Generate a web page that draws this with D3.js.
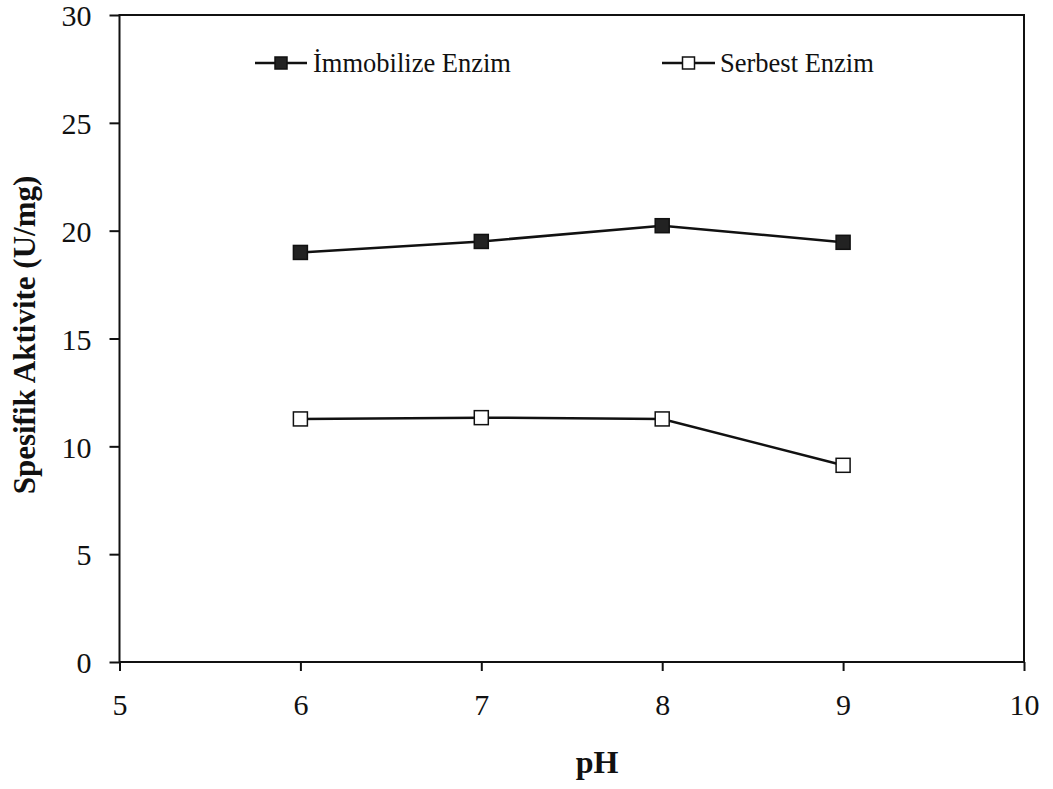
<!DOCTYPE html>
<html>
<head>
<meta charset="utf-8">
<script src="https://cdn.jsdelivr.net/npm/d3@7"></script>
<style>
  body { margin: 0; background: #fff; }
  text { font-family: "Liberation Serif", "Times New Roman", serif; fill: #111; }
</style>
</head>
<body>
<svg width="1053" height="789"></svg>
<script>
// data
const phValues = [6, 7, 8, 9];
const immobilize = [18.99, 19.50, 20.23, 19.46];
const serbest = [11.27, 11.33, 11.27, 9.12];
const xTicks = [5, 6, 7, 8, 9, 10];
const yTicks = [0, 5, 10, 15, 20, 25, 30];
const seriesNames = ['İmmobilize Enzim', 'Serbest Enzim'];

const svg = d3.select('svg');
const mLeft = 119.5, mRight = 1024, mTop = 15, mBottom = 662;

const x = d3.scaleLinear().domain([5, 10]).range([mLeft, mRight]);
const y = d3.scaleLinear().domain([0, 30]).range([mBottom, mTop]);

// frame
svg.append('rect')
  .attr('x', mLeft).attr('y', mTop)
  .attr('width', mRight - mLeft).attr('height', mBottom - mTop)
  .attr('fill', 'none').attr('stroke', '#111').attr('stroke-width', 2);

const xAxis = svg.append('g')
  .attr('transform', `translate(0,${mBottom})`)
  .call(d3.axisBottom(x).tickValues(xTicks).tickSize(9).tickPadding(23).tickFormat(d3.format('d')));
const yAxis = svg.append('g')
  .attr('transform', `translate(${mLeft},0)`)
  .call(d3.axisLeft(y).tickValues(yTicks).tickSize(10).tickPadding(18).tickFormat(d3.format('d')));

[xAxis, yAxis].forEach(a => {
  a.select('.domain').remove();
  a.selectAll('line').attr('stroke', '#111').attr('stroke-width', 2);
  a.selectAll('text').attr('font-size', 30).attr('fill', '#111')
    .style('font-family', '"Liberation Serif", serif');
});
yAxis.selectAll('text').attr('dy', '0.36em');

// axis titles
svg.append('text')
  .attr('x', 597).attr('y', 773)
  .attr('text-anchor', 'middle').attr('font-size', 32).attr('font-weight', 'bold')
  .text('pH');
svg.append('text')
  .attr('transform', 'translate(35,335) rotate(-90)')
  .attr('text-anchor', 'middle').attr('font-size', 31).attr('font-weight', 'bold')
  .text('Spesifik Aktivite (U/mg)');

const line = d3.line().x((d, i) => x(phValues[i])).y(d => y(d));
const series = [
  { vals: immobilize, fill: '#222' },
  { vals: serbest, fill: '#fff' }
];
const ms = 14;

series.forEach(s => {
  svg.append('path').datum(s.vals)
    .attr('d', line).attr('fill', 'none')
    .attr('stroke', '#111').attr('stroke-width', 2.5);
  svg.selectAll(null).data(s.vals).enter().append('rect')
    .attr('x', (d, i) => x(phValues[i]) - ms / 2)
    .attr('y', d => y(d) - ms / 2)
    .attr('width', ms).attr('height', ms)
    .attr('fill', s.fill).attr('stroke', '#111').attr('stroke-width', 1.5);
});

// legend
const legendPos = [{ x0: 255, x1: 307, tx: 313 }, { x0: 662, x1: 715, tx: 720 }];
const ly = 63;
legendPos.forEach((p, i) => {
  svg.append('line').attr('x1', p.x0).attr('x2', p.x1).attr('y1', ly).attr('y2', ly)
    .attr('stroke', '#111').attr('stroke-width', 2.5);
  svg.append('rect')
    .attr('x', (p.x0 + p.x1) / 2 - 6).attr('y', ly - 6).attr('width', 12).attr('height', 12)
    .attr('fill', series[i].fill).attr('stroke', '#111').attr('stroke-width', 1.5);
  svg.append('text').attr('x', p.tx).attr('y', ly).attr('dy', '0.35em')
    .attr('font-size', 26.5).text(seriesNames[i]);
});
</script>
</body>
</html>
